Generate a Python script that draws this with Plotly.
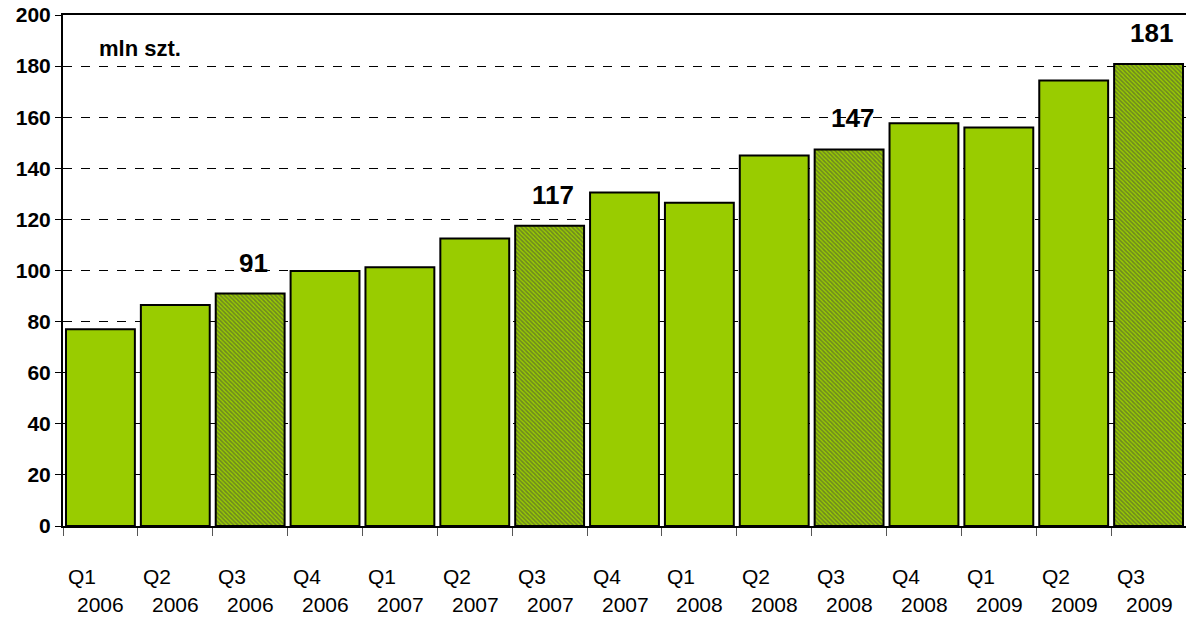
import plotly.graph_objects as go

# quarterly values, mln szt.
quarters = ["Q1", "Q2", "Q3", "Q4", "Q1", "Q2", "Q3", "Q4", "Q1", "Q2", "Q3", "Q4", "Q1", "Q2", "Q3"]
years = ["2006", "2006", "2006", "2006", "2007", "2007", "2007", "2007",
         "2008", "2008", "2008", "2008", "2009", "2009", "2009"]
values = [77, 86.5, 91, 99.8, 101.3, 112.5, 117.5, 130.5,
          126.5, 145, 147.4, 157.6, 156, 174.4, 180.8]
labels = ["", "", "91", "", "", "", "117", "", "", "", "147", "", "", "", "181"]

cats = [q + " " + y for q, y in zip(quarters, years)]
hatched = [q == "Q3" for q in quarters]

FONT = "Arial, Liberation Sans, sans-serif"

fig = go.Figure()
fig.add_trace(go.Bar(
    x=cats, y=values,
    marker=dict(
        color=["#99CC00"] * len(cats),
        line=dict(color="black", width=2),
        pattern=dict(
            shape=["\\" if h else "" for h in hatched],
            fgcolor="#5F6800",
            bgcolor="#99B800",
            size=3,
            solidity=0.55,
        ),
    ),
    showlegend=False,
))

# value labels above the Q3 bars
for c, v, t in zip(cats, values, labels):
    if t:
        fig.add_annotation(x=c, y=v, text="<b>" + t + "</b>", showarrow=False, yanchor="bottom",
                           yshift=14, xshift=3, font=dict(size=26, color="black", family=FONT))

# two-line category labels below the axis
for c, q, y in zip(cats, quarters, years):
    fig.add_annotation(x=c, y=0, yref="y", text=q, showarrow=False, xanchor="left",
                       yanchor="middle", xshift=-34, yshift=-50, font=dict(size=21, color="black", family=FONT))
    fig.add_annotation(x=c, y=0, yref="y", text=y, showarrow=False, xanchor="left",
                       yanchor="middle", xshift=-25, yshift=-78, font=dict(size=21, color="black", family=FONT))

fig.add_annotation(x=0.03, xref="paper", y=180, yref="y", text="<b>mln szt.</b>", showarrow=False,
                   xanchor="left", yanchor="bottom", yshift=3, font=dict(size=22, color="black", family=FONT))

fig.update_layout(
    width=1186, height=634,
    margin=dict(l=63, r=0, t=15, b=108),
    plot_bgcolor="white", paper_bgcolor="white",
    bargap=0.08,
    font=dict(family=FONT, color="black"),
)
fig.update_xaxes(
    type="category", showticklabels=False, automargin=False,
    showline=True, linecolor="black", linewidth=2, mirror=True,
    ticks="outside", tickson="boundaries", ticklen=8, tickcolor="#555555",
    showgrid=False,
)
fig.update_yaxes(
    range=[0, 200], dtick=20, automargin=False,
    showline=True, linecolor="black", linewidth=2,
    ticks="outside", ticklen=6, tickcolor="black",
    showgrid=True, gridcolor="black", gridwidth=1, griddash="dash",
    tickfont=dict(size=21, color="black", family=FONT, weight="bold"),
    zeroline=False,
)

# drop the default body margin so the figure sits at the page origin
fig.write_html("out.html", config={"displayModeBar": False},
               post_script="document.body.style.margin='0';")
